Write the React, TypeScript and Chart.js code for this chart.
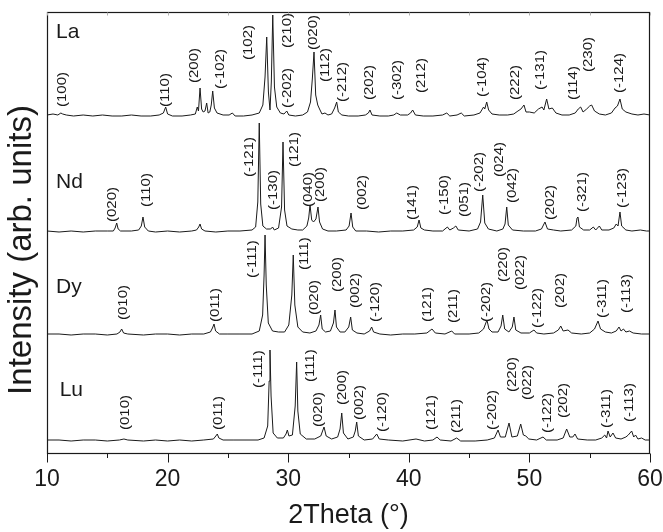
import React, { useEffect, useRef } from 'react';
import { Chart, registerables } from 'chart.js';

Chart.register(...registerables);

const FONT = '"Liberation Sans", Arial, Helvetica, sans-serif';

// sample names and their vertical stacking offsets (arb. units)
const sampleNames = ['La', 'Nd', 'Dy', 'Lu'];
const stackOffsets = [337, 222, 119, 13];
const nameTheta = [10.75, 10.75, 10.75, 11.05];
const nameLevel = [422, 272, 167, 64];

// axis texts and tick values
const xTicks = [10, 20, 30, 40, 50, 60];
const xTitle = '2Theta (°)';
const yTitle = 'Intensity (arb. units)';

// diffraction patterns: [2theta, intensity above own baseline]
const laPattern: [number, number][] = [
  [10.0, 2], [10.5, 3], [10.9, 2], [11.15, 4], [11.3, 3], [11.6, 2], [12.2, 1], [13.0, 2], [13.8, 1], [14.6, 2],
  [15.4, 1], [16.2, 1], [17.0, 2], [17.8, 1], [18.6, 1], [19.3, 2], [19.65, 4], [19.84, 10], [20.0, 3], [20.4, 1],
  [21.2, 1], [21.9, 2], [22.3, 3], [22.46, 10], [22.56, 6], [22.69, 29], [22.82, 8], [22.95, 5], [23.1, 6], [23.24, 14],
  [23.36, 4], [23.5, 5], [23.62, 12], [23.74, 26], [23.88, 9], [24.1, 4], [24.6, 2], [25.1, 2], [25.37, 4], [25.6, 1],
  [26.3, 1], [27.0, 2], [27.6, 4], [27.9, 12], [28.08, 40], [28.22, 80], [28.36, 25], [28.49, 7], [28.6, 35], [28.72, 102],
  [28.86, 30], [29.05, 10], [29.35, 4], [29.65, 3], [29.88, 6], [30.05, 2], [30.6, 1], [31.2, 2], [31.6, 5], [31.85, 15],
  [32.0, 38], [32.14, 65], [32.28, 22], [32.45, 12], [32.6, 8], [32.8, 3], [33.05, 4], [33.3, 2], [33.6, 3], [33.85, 9],
  [34.02, 15], [34.16, 5], [34.45, 2], [35.0, 1], [35.8, 1], [36.4, 2], [36.65, 4], [36.78, 7], [36.95, 2], [37.6, 1],
  [38.3, 1], [38.75, 2], [39.0, 4], [39.3, 2], [39.9, 2], [40.15, 4], [40.32, 7], [40.55, 2], [41.2, 1], [42.0, 1],
  [42.8, 2], [43.15, 4], [43.4, 1], [44.0, 2], [44.35, 4], [44.6, 1], [45.4, 2], [45.9, 4], [46.2, 10], [46.3, 8],
  [46.46, 15], [46.62, 7], [46.9, 3], [47.5, 2], [48.2, 2], [48.7, 3], [49.05, 6], [49.3, 8], [49.55, 12], [49.72, 5],
  [50.0, 5], [50.4, 4], [50.75, 8], [51.05, 10], [51.2, 7], [51.43, 18], [51.62, 8], [51.9, 9], [52.2, 4], [52.7, 2],
  [53.3, 2], [53.8, 4], [54.05, 8], [54.25, 10], [54.45, 5], [54.75, 8], [55.0, 11], [55.16, 12], [55.4, 6], [55.8, 3],
  [56.3, 2], [56.8, 4], [57.1, 9], [57.3, 11], [57.51, 18], [57.7, 8], [58.0, 5], [58.5, 3], [59.0, 2], [59.5, 3], [60.0, 2],
];

const ndPattern: [number, number][] = [
  [10.0, 1], [11.0, 0], [12.0, 1], [13.0, 0], [14.0, 1], [15.0, 1], [15.5, 1], [15.65, 4], [15.78, 9], [15.9, 3],
  [16.1, 1], [17.0, 1], [17.6, 2], [17.82, 6], [17.96, 15], [18.1, 5], [18.4, 1], [19.0, 0], [20.0, 1], [21.0, 0],
  [22.0, 1], [22.4, 2], [22.58, 5], [22.69, 8], [22.82, 3], [23.1, 1], [24.0, 0], [25.0, 1], [26.0, 1], [27.0, 2],
  [27.3, 5], [27.48, 30], [27.6, 109], [27.72, 28], [27.9, 6], [28.2, 3], [28.55, 3], [28.7, 5], [28.85, 2], [29.2, 4],
  [29.45, 25], [29.57, 90], [29.7, 22], [29.9, 6], [30.3, 3], [30.8, 2], [31.2, 2], [31.55, 6], [31.7, 14], [31.81, 27],
  [31.95, 12], [32.1, 10], [32.3, 13], [32.47, 25], [32.6, 10], [32.85, 3], [33.3, 1], [34.0, 1], [34.8, 2], [35.05, 6],
  [35.21, 19], [35.35, 5], [35.6, 1], [36.5, 1], [37.5, 0], [38.5, 1], [39.5, 1], [40.4, 2], [40.7, 5], [40.85, 12],
  [41.0, 4], [41.3, 2], [42.0, 1], [42.8, 1], [43.2, 5], [43.4, 2], [43.7, 4], [43.9, 6], [44.1, 2], [45.0, 1],
  [45.7, 3], [45.95, 10], [46.13, 37], [46.3, 9], [46.6, 3], [47.3, 1], [47.8, 3], [47.98, 8], [48.12, 25], [48.25, 7],
  [48.6, 2], [49.5, 1], [50.5, 1], [51.0, 3], [51.29, 10], [51.5, 3], [52.0, 2], [52.6, 1], [53.5, 2], [53.85, 6],
  [53.95, 14], [54.03, 15], [54.15, 5], [54.5, 2], [55.0, 2], [55.3, 5], [55.5, 2], [55.8, 6], [56.0, 2], [56.6, 2],
  [57.0, 4], [57.2, 8], [57.35, 6], [57.51, 20], [57.65, 6], [58.0, 2], [58.5, 1], [59.2, 2], [59.7, 1], [60.0, 1],
];

const dyPattern: [number, number][] = [
  [10.0, 1], [11.0, 1], [12.0, 0], [13.0, 1], [14.0, 1], [15.0, 0], [15.8, 1], [16.05, 3], [16.19, 6], [16.35, 2],
  [16.7, 1], [18.0, 0], [19.0, 1], [20.0, 1], [21.0, 0], [22.0, 1], [23.0, 1], [23.55, 3], [23.72, 7], [23.85, 11],
  [23.98, 4], [24.3, 1], [25.0, 1], [26.0, 1], [27.0, 1], [27.6, 4], [27.88, 20], [28.0, 60], [28.08, 100], [28.18, 50],
  [28.35, 12], [28.7, 4], [29.2, 3], [29.7, 3], [30.05, 10], [30.3, 40], [30.42, 80], [30.55, 30], [30.8, 8], [31.2, 3],
  [31.8, 2], [32.3, 4], [32.55, 10], [32.69, 20], [32.82, 6], [33.1, 3], [33.5, 4], [33.75, 12], [33.88, 25], [34.0, 8],
  [34.3, 3], [34.7, 3], [35.02, 8], [35.18, 18], [35.32, 5], [35.7, 2], [36.3, 1], [36.75, 4], [36.92, 8], [37.08, 3],
  [37.6, 1], [38.5, 0], [39.5, 1], [40.5, 1], [41.5, 2], [41.92, 6], [42.2, 2], [43.0, 1], [43.56, 4], [43.8, 1],
  [45.0, 1], [45.8, 2], [46.2, 6], [46.48, 15], [46.65, 6], [46.9, 3], [47.4, 3], [47.65, 9], [47.79, 20], [47.95, 6],
  [48.3, 3], [48.58, 8], [48.72, 18], [48.87, 5], [49.3, 2], [50.0, 2], [50.38, 5], [50.6, 2], [51.2, 1], [52.0, 2],
  [52.4, 5], [52.6, 9], [52.8, 4], [53.2, 5], [53.5, 2], [54.3, 1], [55.0, 2], [55.4, 6], [55.69, 14], [55.9, 6],
  [56.3, 3], [56.8, 2], [57.2, 4], [57.43, 8], [57.6, 4], [57.8, 6], [58.0, 3], [58.3, 4], [58.6, 2], [59.3, 1], [60.0, 1],
];

const luPattern: [number, number][] = [
  [10.0, 1], [11.0, 1], [12.0, 0], [13.0, 1], [14.0, 1], [15.0, 0], [16.0, 1], [16.38, 2], [16.7, 1], [18.0, 0],
  [19.0, 1], [20.0, 0], [21.0, 1], [22.0, 0], [23.0, 1], [23.8, 2], [24.0, 5], [24.12, 7], [24.25, 3], [24.6, 1],
  [25.5, 1], [26.5, 1], [27.5, 1], [28.0, 3], [28.3, 15], [28.42, 60], [28.49, 91], [28.58, 45], [28.75, 8], [29.1, 3],
  [29.6, 3], [29.82, 7], [29.93, 11], [30.06, 5], [30.35, 6], [30.58, 35], [30.7, 79], [30.8, 30], [31.0, 7], [31.5, 2],
  [32.2, 2], [32.7, 5], [32.97, 14], [33.15, 5], [33.6, 2], [34.1, 4], [34.3, 12], [34.44, 28], [34.58, 8], [34.95, 2],
  [35.4, 4], [35.56, 10], [35.68, 19], [35.82, 5], [36.3, 1], [37.0, 2], [37.34, 7], [37.55, 2], [38.3, 1], [39.5, 0],
  [40.6, 2], [41.3, 0], [42.0, 1], [42.34, 4], [42.6, 1], [43.5, 0], [43.97, 3], [44.3, 0], [45.5, 0], [46.5, 1],
  [47.1, 3], [47.4, 11], [47.6, 4], [48.0, 4], [48.31, 18], [48.55, 4], [49.0, 5], [49.28, 17], [49.5, 6], [49.7, 5],
  [49.95, 2], [50.6, 1], [51.13, 4], [51.4, 1], [52.3, 1], [52.8, 3], [53.09, 12], [53.35, 4], [53.6, 4], [53.78, 7],
  [54.0, 2], [54.8, 1], [55.5, 1], [56.0, 3], [56.25, 6], [56.4, 3], [56.52, 10], [56.7, 4], [56.93, 8], [57.15, 3],
  [57.6, 2], [58.0, 4], [58.2, 6], [58.48, 10], [58.65, 4], [58.8, 6], [59.0, 2], [59.3, 3], [59.6, 1], [60.0, 1],
];

// Miller-index annotations: [text, 2theta, level where the rotated text starts]
const laPeakLabels: [string, number, number][] = [
  ['(100)', 11.3, 347], ['(110)', 19.84, 347], ['(200)', 22.27, 371], ['(-102)', 24.35, 365], ['(102)', 26.67, 394],
  ['(210)', 29.9, 406], ['(-202)', 29.9, 346], ['(020)', 32.06, 404], ['(112)', 33.13, 372], ['(-212)', 34.54, 352],
  ['(202)', 36.7, 354], ['(-302)', 39.02, 354], ['(212)', 41.01, 361], ['(-104)', 46.07, 357], ['(222)', 48.81, 354],
  ['(-131)', 50.88, 364], ['(114)', 53.62, 354], ['(230)', 54.94, 382], ['(-124)', 57.43, 361],
];
const ndPeakLabels: [string, number, number][] = [
  ['(020)', 15.47, 232], ['(110)', 18.29, 247], ['(-121)', 26.75, 277], ['(-130)', 28.74, 244], ['(121)', 30.56, 287],
  ['(040)', 31.72, 247], ['(200)', 32.64, 252], ['(002)', 36.12, 244], ['(141)', 40.27, 234], ['(-150)', 43.0, 239],
  ['(051)', 44.58, 237], ['(-202)', 45.9, 262], ['(024)', 47.56, 277], ['(042)', 48.56, 251], ['(202)', 51.71, 234],
  ['(-321)', 54.44, 242], ['(-123)', 57.68, 246],
];
const dyPeakLabels: [string, number, number][] = [
  ['(010)', 16.38, 134], ['(011)', 23.93, 132], ['(-111)', 27.0, 176], ['(111)', 31.39, 184], ['(020)', 32.22, 139],
  ['(200)', 34.05, 162], ['(002)', 35.54, 146], ['(-120)', 37.2, 132], ['(121)', 41.59, 132], ['(211)', 43.67, 131],
  ['(-202)', 46.48, 132], ['(220)', 47.81, 172], ['(022)', 49.22, 164], ['(-122)', 50.63, 126], ['(202)', 52.54, 146],
  ['(-311)', 56.02, 136], ['(-113)', 58.09, 141],
];
const luPeakLabels: [string, number, number][] = [
  ['(010)', 16.47, 24], ['(011)', 24.18, 24], ['(-111)', 27.5, 66], ['(111)', 31.81, 72], ['(020)', 32.47, 27],
  ['(200)', 34.54, 49], ['(002)', 35.87, 34], ['(-120)', 37.78, 22], ['(121)', 41.92, 24], ['(211)', 43.99, 21],
  ['(-202)', 46.98, 24], ['(220)', 48.56, 62], ['(022)', 49.88, 54], ['(-122)', 51.46, 21], ['(202)', 52.79, 36],
  ['(-311)', 56.35, 26], ['(-113)', 58.26, 32],
];

const patterns = [laPattern, ndPattern, dyPattern, luPattern];
const peakLabels = [laPeakLabels, ndPeakLabels, dyPeakLabels, luPeakLabels];

const annotationPlugin = {
  id: 'xrdAnnotations',
  afterDatasetsDraw(chart: any) {
    const { ctx, chartArea, scales } = chart;
    const xs = scales.x;
    const ys = scales.y;
    const L = Math.round(chartArea.left) + 0.5;
    const R = Math.round(chartArea.right) - 0.5;
    const T = Math.round(chartArea.top) + 0.5;
    const B = Math.round(chartArea.bottom) - 0.5;
    ctx.save();
    // frame
    ctx.strokeStyle = '#1a1a1a';
    ctx.lineWidth = 1.2;
    ctx.strokeRect(L, T, R - L, B - T);
    // bottom ticks (outward) and faint top ticks
    for (let v = 10; v <= 60; v += 5) {
      const px = Math.round(xs.getPixelForValue(v)) + 0.5;
      const major = v % 10 === 0;
      ctx.strokeStyle = '#1a1a1a';
      ctx.lineWidth = 1;
      ctx.beginPath();
      ctx.moveTo(px, B);
      ctx.lineTo(px, B + (major ? 9 : 4.5));
      ctx.stroke();
      ctx.strokeStyle = '#b0b0b0';
      ctx.beginPath();
      ctx.moveTo(px, T);
      ctx.lineTo(px, T + 3);
      ctx.stroke();
    }
    ctx.fillStyle = '#1a1a1a';
    // y-axis title, centred a little below the middle of the plot
    ctx.save();
    ctx.font = `33px ${FONT}`;
    ctx.textAlign = 'center';
    ctx.textBaseline = 'middle';
    ctx.translate(22, (chartArea.top + chartArea.bottom) / 2 + 17);
    ctx.rotate(-Math.PI / 2);
    ctx.fillText(yTitle, 0, 0);
    ctx.restore();
    // peak labels (slightly condensed glyphs, as in the original figure)
    ctx.font = `15px ${FONT}`;
    ctx.textAlign = 'left';
    ctx.textBaseline = 'middle';
    peakLabels.forEach((list) => {
      list.forEach(([text, th, lv]) => {
        ctx.save();
        ctx.translate(xs.getPixelForValue(th), ys.getPixelForValue(lv));
        ctx.rotate(-Math.PI / 2);
        ctx.scale(1, 0.85);
        ctx.fillText(text, 0, 0);
        ctx.restore();
      });
    });
    // sample names
    ctx.font = `21px ${FONT}`;
    sampleNames.forEach((name, i) => {
      ctx.fillText(name, xs.getPixelForValue(nameTheta[i]), ys.getPixelForValue(nameLevel[i]));
    });
    ctx.restore();
  },
};

export default function App() {
  const canvasRef = useRef<HTMLCanvasElement | null>(null);

  useEffect(() => {
    const canvas = canvasRef.current;
    if (!canvas) return;
    const datasets = patterns.map((pat, i) => ({
      label: sampleNames[i],
      data: pat.map(([t, c]) => ({ x: t, y: c + stackOffsets[i] })),
      borderColor: '#1a1a1a',
      borderWidth: 1,
      pointRadius: 0,
      tension: 0,
      fill: false,
    }));
    const chart = new Chart(canvas, {
      type: 'line',
      data: { datasets },
      options: {
        animation: false,
        responsive: true,
        maintainAspectRatio: false,
        layout: { padding: { top: 12, right: 0, left: 0, bottom: 0 } },
        plugins: { legend: { display: false }, tooltip: { enabled: false } },
        scales: {
          x: {
            type: 'linear',
            min: 10,
            max: 60,
            afterBuildTicks: (s: any) => {
              s.ticks = xTicks.map((v) => ({ value: v }));
            },
            grid: { display: false, drawTicks: false },
            border: { display: false },
            ticks: {
              padding: 12,
              color: '#1a1a1a',
              font: { size: 23, family: FONT },
              maxRotation: 0,
              autoSkip: false,
            },
            title: {
              display: true,
              text: xTitle,
              color: '#1a1a1a',
              font: { size: 27, family: FONT },
              padding: { top: 0, bottom: 0 },
            },
            afterFit: (s: any) => {
              s.height = 78;
              s.paddingLeft = 0;
              s.paddingRight = 13;
            },
          },
          y: {
            type: 'linear',
            min: 0,
            max: 442,
            grid: { display: false, drawTicks: false },
            border: { display: false },
            ticks: { display: false },
            title: { display: false },
            afterFit: (s: any) => {
              s.width = 47;
              s.paddingTop = 0;
              s.paddingBottom = 0;
            },
          },
        },
      },
      plugins: [annotationPlugin],
    });
    return () => chart.destroy();
  }, []);

  return (
    <div style={{ position: 'absolute', left: 0, top: 0, width: 663, height: 532, background: '#fff' }}>
      <canvas ref={canvasRef} />
    </div>
  );
}
